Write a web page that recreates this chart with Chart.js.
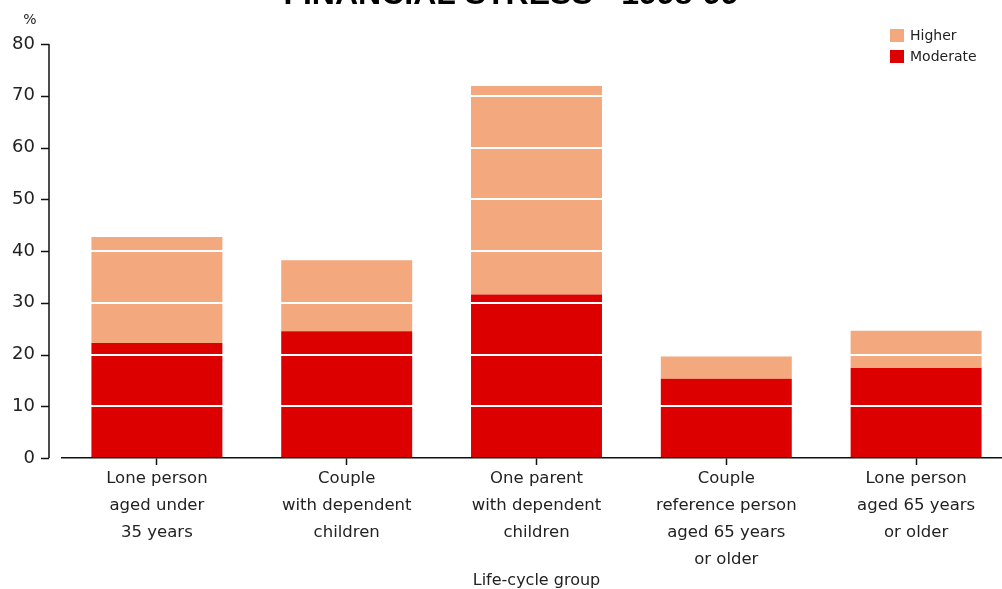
<!DOCTYPE html>
<html lang="en">
<head>
<meta charset="UTF-8">
<title>Financial stress by life-cycle group</title>
<script src="https://cdn.jsdelivr.net/npm/chart.js"></script>
<style>
  html, body { margin: 0; padding: 0; background: #fff; overflow: hidden; }
</style>
</head>
<body>
<!-- plot runs a few px past the right edge of the window -->
<canvas id="stressChart" width="1011" height="589"></canvas>
<script>
// life-cycle groups, one multi-line label each
const groups = [
  ['Lone person', 'aged under', '35 years'],
  ['Couple', 'with dependent', 'children'],
  ['One parent', 'with dependent', 'children'],
  ['Couple', 'reference person', 'aged 65 years', 'or older'],
  ['Lone person', 'aged 65 years', 'or older']
];
// share of households in each level of stress (%)
const moderate = [22.2, 24.5, 31.6, 15.3, 17.4];
const higher = [20.5, 13.7, 40.3, 4.3, 7.2];
const yMax = 80;
const yStep = 10;

const TEXT = '#222';
const FONT = '"DejaVu Sans", "Liberation Sans", sans-serif';

// y axis line + ticks sit a little left of the plot, so draw them by hand
const extras = {
  id: 'extras',
  afterDraw(chart) {
    const ctx = chart.ctx;
    const y = chart.scales.y;
    const axisX = 49;
    ctx.save();
    ctx.strokeStyle = '#111';
    ctx.lineWidth = 1.5;
    ctx.beginPath();
    ctx.moveTo(axisX, y.getPixelForValue(0));
    ctx.lineTo(axisX, y.getPixelForValue(yMax));
    for (let v = 0; v <= yMax; v += yStep) {
      const py = Math.round(y.getPixelForValue(v)) + 0.5;
      ctx.moveTo(axisX - 8, py);
      ctx.lineTo(axisX, py);
    }
    ctx.stroke();

    // unit label
    ctx.fillStyle = TEXT;
    ctx.font = '14px ' + FONT;
    ctx.textAlign = 'center';
    ctx.textBaseline = 'middle';
    ctx.fillText('%', 30, 20);

    // title, partly above the top edge
    ctx.fillStyle = '#000';
    ctx.font = 'bold 32px "Liberation Sans", Arial, sans-serif';
    ctx.textBaseline = 'alphabetic';
    ctx.fillText('FINANCIAL STRESS - 1998-99', 511, 4);

    // legend, top series first
    const sets = chart.data.datasets.slice().reverse();
    ctx.font = '14px ' + FONT;
    ctx.textAlign = 'left';
    ctx.textBaseline = 'middle';
    sets.forEach((ds, i) => {
      const top = 29 + i * 21;
      ctx.fillStyle = ds.backgroundColor;
      ctx.fillRect(890, top, 14, 13);
      ctx.fillStyle = TEXT;
      ctx.fillText(ds.label, 910, top + 7);
    });
    ctx.restore();
  }
};

new Chart(document.getElementById('stressChart'), {
  type: 'bar',
  data: {
    labels: groups,
    datasets: [
      { label: 'Moderate', data: moderate, backgroundColor: '#DD0000', borderWidth: 0 },
      { label: 'Higher', data: higher, backgroundColor: '#F4A87D', borderWidth: 0 }
    ]
  },
  options: {
    responsive: false,
    devicePixelRatio: 1,
    animation: false,
    layout: { padding: { top: 44, right: 0, bottom: 0, left: 0 } },
    datasets: { bar: { categoryPercentage: 1, barPercentage: 0.69 } },
    plugins: {
      legend: { display: false },
      tooltip: { enabled: false }
    },
    scales: {
      x: {
        stacked: true,
        border: { display: true, color: '#111', width: 1.5 },
        grid: {
          offset: false,
          drawOnChartArea: false,
          drawTicks: true,
          tickLength: 7,
          tickColor: '#111',
          tickWidth: 1.5
        },
        ticks: {
          color: TEXT,
          padding: 0,
          maxRotation: 0,
          autoSkip: false,
          font: { family: FONT, size: 16.5, lineHeight: '27px' }
        },
        title: {
          display: true,
          text: 'Life-cycle group',
          color: TEXT,
          padding: { top: 0, bottom: 0 },
          font: { family: FONT, size: 16, lineHeight: 1 }
        }
      },
      y: {
        stacked: true,
        min: 0,
        max: yMax,
        afterFit(scale) { scale.width = 62; },
        border: { display: false },
        grid: {
          z: 1,
          lineWidth: 2,
          drawTicks: false,
          color: c => c.tick && c.tick.value === 0 ? 'rgba(0,0,0,0)' : '#fff'
        },
        ticks: {
          stepSize: yStep,
          padding: 27,
          color: TEXT,
          font: { family: FONT, size: 18 }
        }
      }
    }
  },
  plugins: [extras]
});
</script>
</body>
</html>
